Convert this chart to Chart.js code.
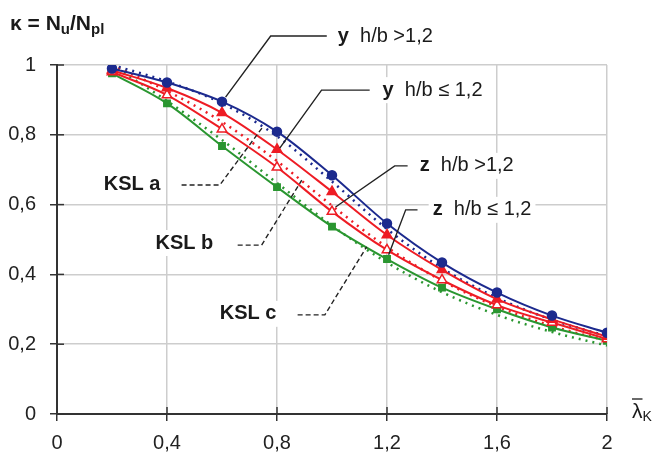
<!DOCTYPE html>
<html>
<head>
<meta charset="utf-8">
<script src="https://cdn.jsdelivr.net/npm/chart.js@4"></script>
<style>
  html, body { margin: 0; padding: 0; background: #fff; }
  #wrap { width: 659px; height: 453px; }
</style>
</head>
<body>
<div id="wrap"><canvas id="myChart" width="659" height="453"></canvas></div>
<script>
// slenderness values
const lambda = [0.2, 0.4, 0.6, 0.8, 1.0, 1.2, 1.4, 1.6, 1.8, 2.0];

// test / calculated results
const yHigh = [0.990, 0.950, 0.895, 0.809, 0.684, 0.546, 0.434, 0.348, 0.282, 0.233];
const yLow  = [0.985, 0.934, 0.863, 0.758, 0.637, 0.513, 0.413, 0.329, 0.271, 0.222];
const zHigh = [0.980, 0.914, 0.816, 0.707, 0.580, 0.470, 0.384, 0.312, 0.262, 0.215];
const zLow  = [0.976, 0.890, 0.768, 0.650, 0.537, 0.444, 0.362, 0.300, 0.248, 0.210];

// buckling curves (KSL)
const kslA = [1.000, 0.953, 0.890, 0.796, 0.666, 0.530, 0.418, 0.333, 0.270, 0.223];
const kslB = [1.000, 0.926, 0.837, 0.725, 0.597, 0.478, 0.382, 0.308, 0.252, 0.210];
const kslC = [1.000, 0.897, 0.785, 0.662, 0.540, 0.434, 0.349, 0.284, 0.235, 0.196];

const xTickLabels = ['0', '0,4', '0,8', '1,2', '1,6', '2'];
const yTickLabels = ['0', '0,2', '0,4', '0,6', '0,8', '1'];

const BLUE = '#1c2a8e';
const RED = '#ee1c24';
const GREEN = '#2a9630';
const FONT = '"Liberation Sans", Arial, sans-serif';

function pts(ys) {
  return lambda.map((x, i) => ({ x: x, y: ys[i] }));
}

function solid(label, ys, color, style, fill, r) {
  return {
    label: label,
    data: pts(ys),
    borderColor: color,
    borderWidth: 2,
    pointStyle: style,
    pointRadius: r,
    pointBorderWidth: 1.5,
    pointBackgroundColor: fill,
    pointBorderColor: color,
    cubicInterpolationMode: 'monotone',
    fill: false
  };
}

function dotted(label, ys, color) {
  return {
    label: label,
    data: pts(ys),
    borderColor: color,
    borderWidth: 2.5,
    borderDash: [2, 5],
    pointRadius: 0,
    cubicInterpolationMode: 'monotone',
    fill: false
  };
}

// annotations, in data units
const notes = [
  { bold: 'y', text: '  h/b >1,2', at: [1.021, 1.083], line: [[0.981, 1.083], [0.777, 1.083], [0.613, 0.908]], dash: false },
  { bold: 'y', text: '  h/b \u2264 1,2', at: [1.184, 0.928], line: [[1.137, 0.928], [0.962, 0.928], [0.810, 0.762]], dash: false },
  { bold: 'z', text: '  h/b >1,2', at: [1.319, 0.711], line: [[1.275, 0.711], [1.228, 0.711], [1.013, 0.593]], dash: false },
  { bold: 'z', text: '  h/b \u2264 1,2', at: [1.366, 0.585], line: [[1.311, 0.585], [1.268, 0.585], [1.206, 0.456]], dash: false },
  { bold: 'KSL a', text: '', at: [0.170, 0.659], line: [[0.453, 0.656], [0.592, 0.656], [0.748, 0.822]], dash: true },
  { bold: 'KSL b', text: '', at: [0.358, 0.490], line: [[0.657, 0.484], [0.744, 0.484], [0.890, 0.670]], dash: true },
  { bold: 'KSL c', text: '', at: [0.592, 0.287], line: [[0.875, 0.284], [0.974, 0.284], [1.126, 0.479]], dash: true }
];

const extras = {
  id: 'extras',
  afterDraw(chart) {
    const ctx = chart.ctx;
    const xs = chart.scales.x, ys = chart.scales.y;
    const area = chart.chartArea;
    ctx.save();

    // inner half of the crossing tick marks
    ctx.strokeStyle = '#333';
    ctx.lineWidth = 1.5;
    xs.ticks.forEach(t => {
      const px = xs.getPixelForValue(t.value);
      ctx.beginPath(); ctx.moveTo(px, area.bottom); ctx.lineTo(px, area.bottom - 7); ctx.stroke();
    });
    ys.ticks.forEach(t => {
      const py = ys.getPixelForValue(t.value);
      ctx.beginPath(); ctx.moveTo(area.left, py); ctx.lineTo(area.left + 7, py); ctx.stroke();
    });

    // labels with leader lines
    notes.forEach(n => {
      const tx = xs.getPixelForValue(n.at[0]);
      const ty = ys.getPixelForValue(n.at[1]);
      ctx.font = 'bold 20px ' + FONT;
      const wb = ctx.measureText(n.bold).width;
      ctx.font = '20px ' + FONT;
      const wt = ctx.measureText(n.text).width;
      ctx.fillStyle = '#fff';
      ctx.fillRect(tx - 4, ty - 13, wb + wt + 8, 26);
      ctx.textBaseline = 'middle';
      ctx.textAlign = 'left';
      ctx.fillStyle = '#1a1a1a';
      ctx.font = 'bold 20px ' + FONT;
      ctx.fillText(n.bold, tx, ty);
      ctx.font = '20px ' + FONT;
      ctx.fillText(n.text, tx + wb, ty);

      ctx.strokeStyle = '#222';
      ctx.lineWidth = 1.4;
      ctx.setLineDash(n.dash ? [5, 3] : []);
      ctx.beginPath();
      n.line.forEach((p, i) => {
        const px = xs.getPixelForValue(p[0]);
        const py = ys.getPixelForValue(p[1]);
        if (i === 0) ctx.moveTo(px, py); else ctx.lineTo(px, py);
      });
      ctx.stroke();
      ctx.setLineDash([]);
    });

    // y axis title: kappa = Nu/Npl
    ctx.fillStyle = '#1a1a1a';
    ctx.textBaseline = 'alphabetic';
    let x = 10;
    const base = 30;
    const part = (s, size, dy) => {
      ctx.font = 'bold ' + size + 'px ' + FONT;
      ctx.fillText(s, x, base + dy);
      x += ctx.measureText(s).width;
    };
    part('\u03BA = N', 21, 0);
    part('u', 15, 4);
    part('/N', 21, 0);
    part('pl', 15, 4);

    // x axis title: lambda bar K
    const lx = xs.right + 25;
    const lb = area.bottom + 4;
    ctx.font = '21px ' + FONT;
    ctx.fillText('\u03BB', lx, lb);
    const lw = ctx.measureText('\u03BB').width;
    ctx.font = '14px ' + FONT;
    ctx.fillText('K', lx + lw, lb + 3);
    ctx.strokeStyle = '#1a1a1a';
    ctx.lineWidth = 1.3;
    ctx.beginPath(); ctx.moveTo(lx, lb - 19); ctx.lineTo(lx + lw, lb - 19); ctx.stroke();

    ctx.restore();
  }
};

const ctx = document.getElementById('myChart');

new Chart(ctx, {
  type: 'line',
  data: {
    datasets: [
      solid('y h/b >1,2', yHigh, BLUE, 'circle', BLUE, 4.5),
      solid('y h/b <= 1,2', yLow, RED, 'triangle', RED, 5.5),
      solid('z h/b >1,2', zHigh, RED, 'triangle', '#fff', 5.5),
      solid('z h/b <= 1,2', zLow, GREEN, 'rect', GREEN, 4.5),
      dotted('KSL a', kslA, BLUE),
      dotted('KSL b', kslB, RED),
      dotted('KSL c', kslC, GREEN)
    ]
  },
  plugins: [extras],
  options: {
    responsive: false,
    animation: false,
    layout: { padding: { left: 0, right: 52, top: 65, bottom: 0 } },
    plugins: {
      legend: { display: false },
      tooltip: { enabled: false }
    },
    scales: {
      x: {
        type: 'linear',
        min: 0,
        max: 2,
        afterFit(scale) { scale.height = 39; },
        ticks: {
          stepSize: 0.4,
          padding: 10,
          color: '#222',
          font: { family: FONT, size: 20 },
          callback: (v, i) => xTickLabels[i]
        },
        grid: {
          color: '#cdcdcd',
          lineWidth: 1.5,
          tickColor: '#333',
          tickLength: 7,
          tickWidth: 1.5
        },
        border: { color: '#333', width: 2 }
      },
      y: {
        min: 0,
        max: 1,
        afterFit(scale) { scale.width = 57; },
        ticks: {
          stepSize: 0.2,
          padding: 14,
          color: '#222',
          font: { family: FONT, size: 20 },
          callback: (v, i) => yTickLabels[i]
        },
        grid: {
          color: '#cdcdcd',
          lineWidth: 1.5,
          tickColor: '#333',
          tickLength: 7,
          tickWidth: 1.5
        },
        border: { color: '#333', width: 2 }
      }
    }
  }
});
</script>
</body>
</html>
